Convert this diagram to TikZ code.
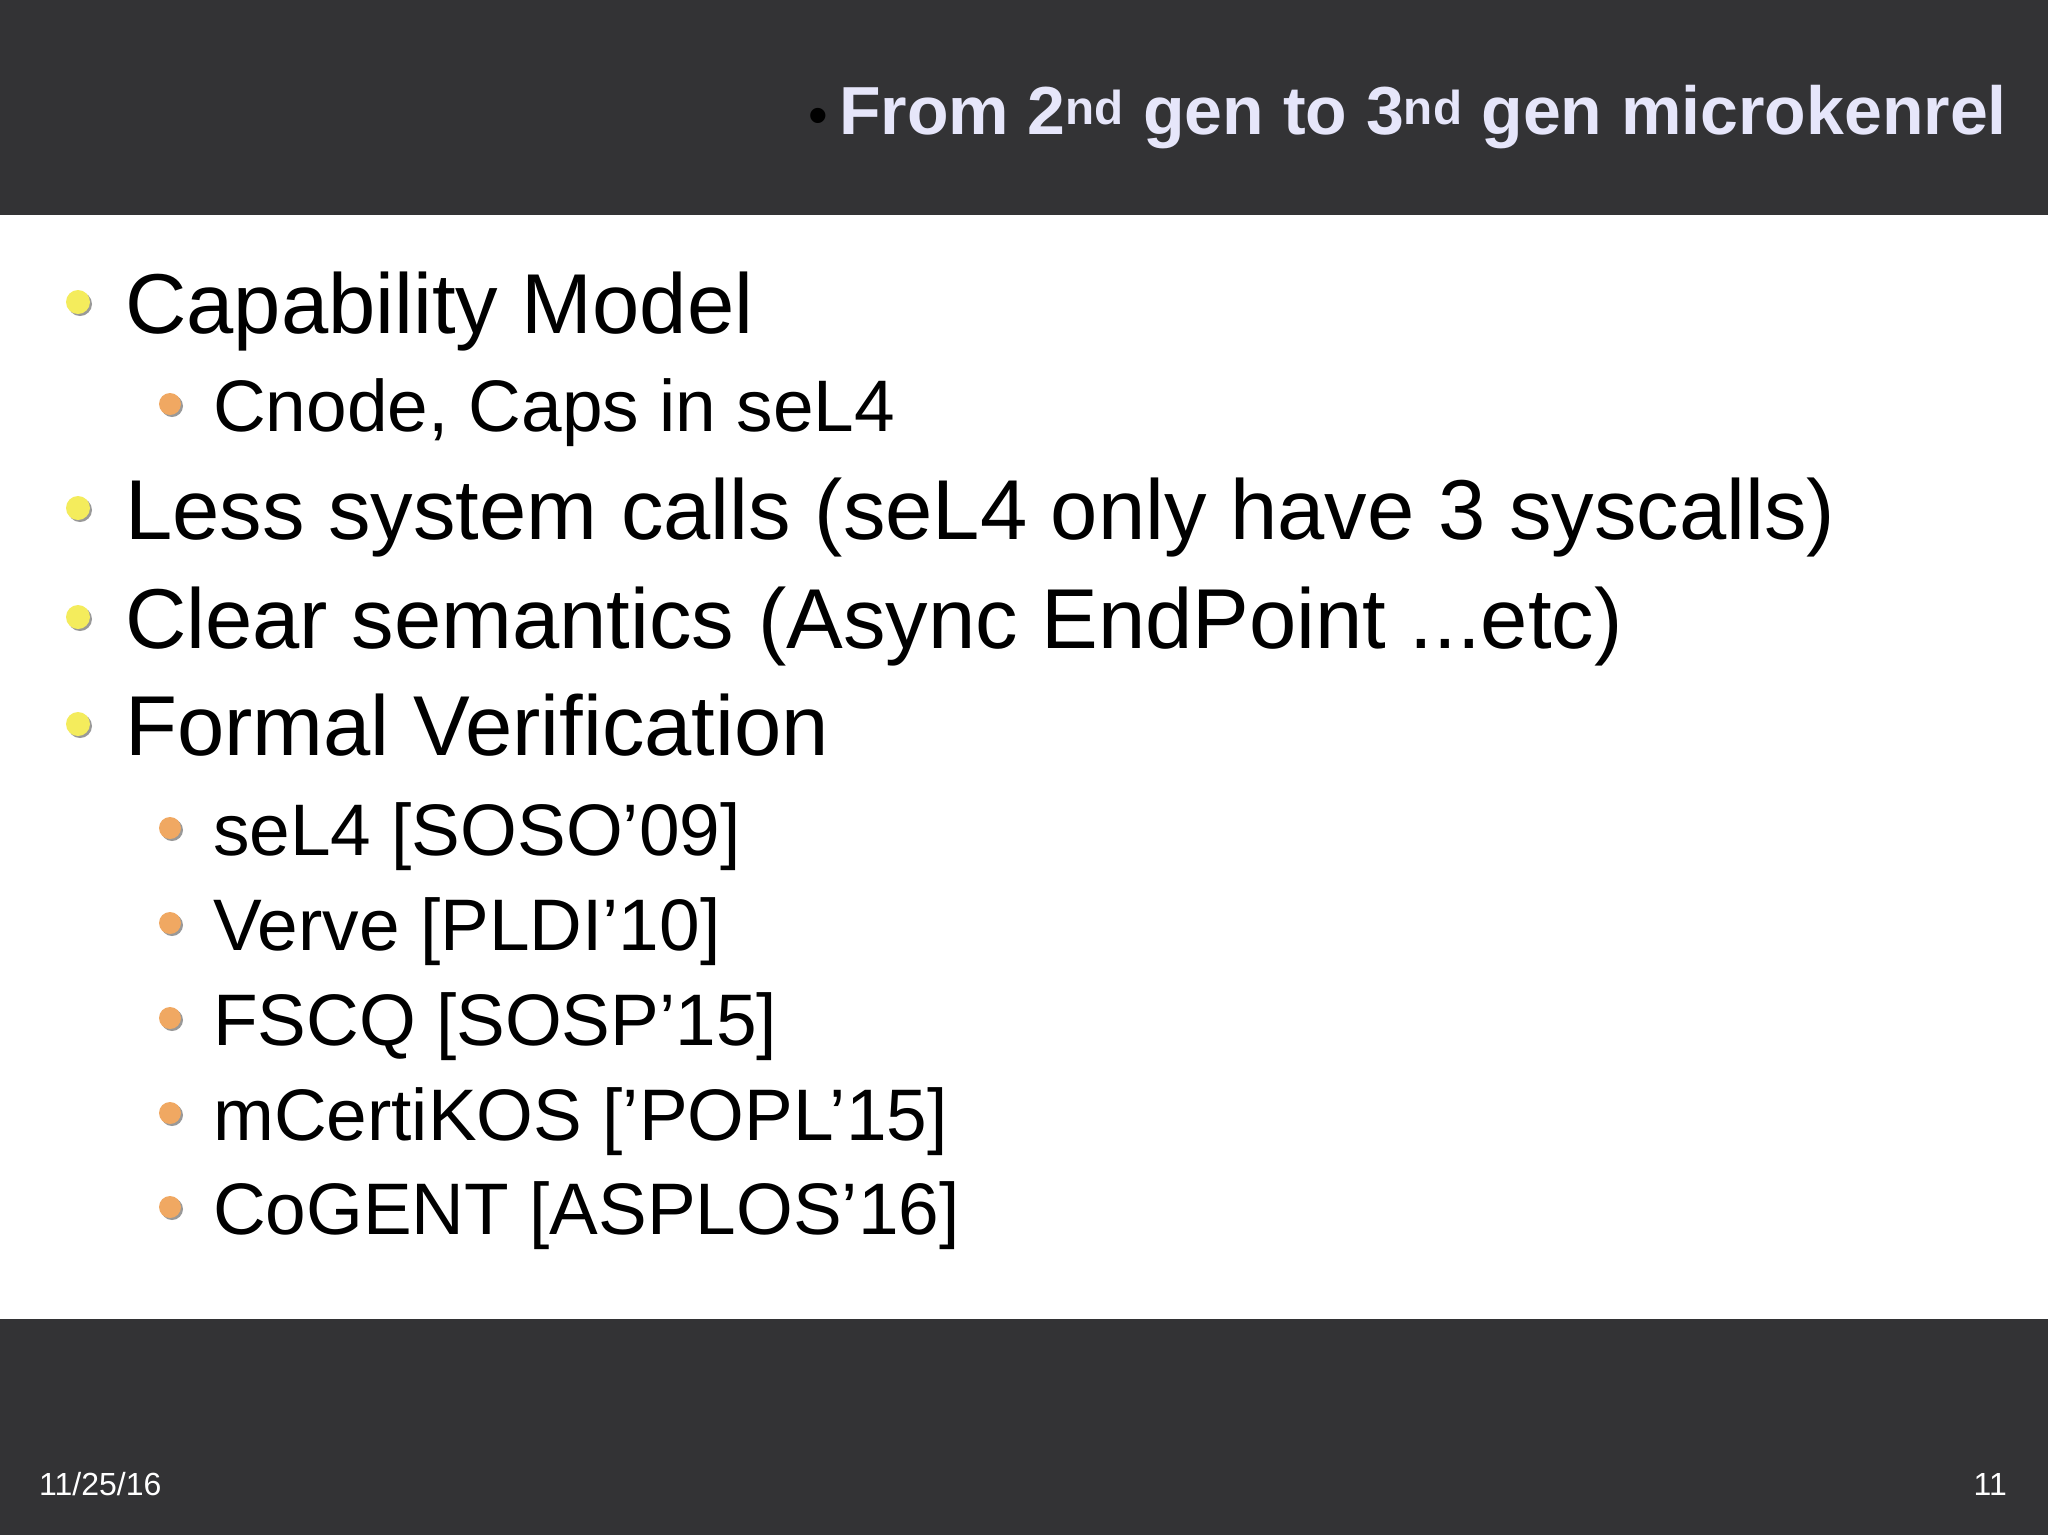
\documentclass[tikz,border=0pt]{standalone}
\usepackage{fontspec}
\setmainfont{Liberation Sans}
\definecolor{band}{HTML}{333335}
\definecolor{ttl}{HTML}{E6E6FA}
\definecolor{yb}{HTML}{F4EC5C}
\definecolor{ob}{HTML}{F0A862}
\begin{document}
\begin{tikzpicture}[x=1pt,y=-1pt,
  lone/.style={anchor=base west,inner sep=0,font=\fontsize{85}{100}\selectfont},
  ltwo/.style={anchor=base west,inner sep=0,font=\fontsize{73}{88}\selectfont},
  foot/.style={inner sep=0,text=white,font=\fontsize{32}{38}\selectfont}]
\useasboundingbox (0,0) rectangle (2048,1535);
\fill[white] (0,0) rectangle (2048,1535);
\fill[band] (0,0) rectangle (2048,215);
\fill[band] (0,1319) rectangle (2048,1535);
\node[anchor=base east,inner sep=0,font=\bfseries\fontsize{68}{80}\selectfont,text=ttl] (title) at (2007,134)
 {\textcolor{black}{\mdseries\fontsize{56}{60}\selectfont•}\,From 2\textsuperscript{nd} gen to 3\textsuperscript{nd} gen microkenrel};
\foreach \t/\y [count=\i] in {{Capability Model}/333, {Less system calls (seL4 only have 3 syscalls)}/539, {Clear semantics (Async EndPoint {...}etc)}/648, {Formal Verification}/755}{
  \node[lone] (a\i) at (125,\y) {\t};
  \fill[black!40] (80,\y-29) circle (12);
  \fill[yb] (78,\y-31) circle (12);
}
\foreach \t/\y [count=\i] in {{Cnode, Caps in seL4}/431, {seL4 [SOSO'09]}/855, {Verve [PLDI'10]}/950, {FSCQ [SOSP'15]}/1045, {mCertiKOS ['POPL'15]}/1140, {CoGENT [ASPLOS'16]}/1234}{
  \node[ltwo] (b\i) at (213,\y) {\t};
  \fill[black!40] (172,\y-25) circle (11);
  \fill[ob] (170,\y-27) circle (11);
}
\node[foot,anchor=base west] (date) at (39,1495) {11/25/16};
\node[foot,anchor=base east] (page) at (2007,1495) {11};
\end{tikzpicture}
\end{document}
